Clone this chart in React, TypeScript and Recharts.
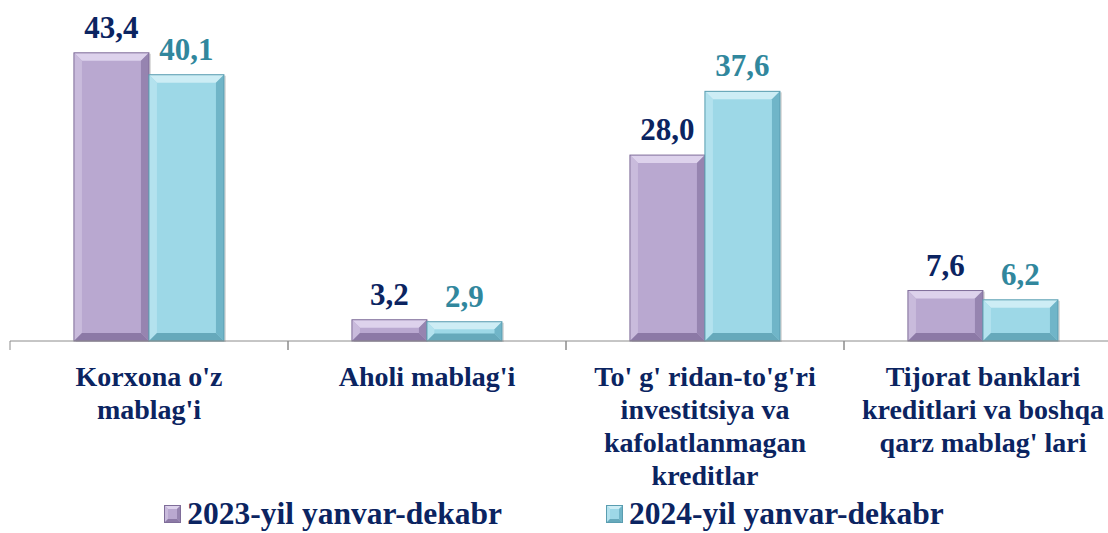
import React from "react";
import { BarChart, Bar, XAxis, YAxis, LabelList, Legend } from "recharts";

const categories = [
  "Korxona o'z mablag'i",
  "Aholi mablag'i",
  "To' g' ridan-to'g'ri investitsiya va kafolatlanmagan kreditlar",
  "Tijorat banklari kreditlari va boshqa qarz mablag' lari",
];
const categoryLines = [
  ["Korxona o'z", "mablag'i"],
  ["Aholi mablag'i"],
  ["To' g' ridan-to'g'ri", "investitsiya va", "kafolatlanmagan", "kreditlar"],
  ["Tijorat banklari", "kreditlari va boshqa", "qarz mablag' lari"],
];
const series2023 = [43.4, 3.2, 28.0, 7.6];
const series2024 = [40.1, 2.9, 37.6, 6.2];
const seriesNames = ["2023-yil yanvar-dekabr", "2024-yil yanvar-dekabr"];

const data = categories.map((c, i) => ({
  name: c,
  lines: categoryLines[i],
  y2023: series2023[i],
  y2024: series2024[i],
}));

const FONT = "Liberation Serif, Times New Roman, serif";
const NAVY = "#0b2461";
const TEAL = "#31879d";

const purplePal = {
  face: "#b9a8d0",
  top: "#ddd2ec",
  left: "#c9bbdc",
  right: "#9684b0",
  bottom: "#8c79a6",
  stroke: "#7f6d99",
};
const cyanPal = {
  face: "#9dd8e7",
  top: "#cdedf5",
  left: "#b3e2ee",
  right: "#70b5c8",
  bottom: "#66a9bb",
  stroke: "#5a9db0",
};

const BevelBar = (props: any) => {
  const { x, y, width, height, pal } = props;
  if (!height || height <= 0) return null;
  const w = width;
  const h = height;
  const b = Math.max(2, Math.min(8, h / 2.6, w / 2));
  const pts = (arr: number[][]) => arr.map((p) => p.join(",")).join(" ");
  return (
    <g>
      <rect x={x + 2} y={y + 1} width={w} height={h} fill="rgba(0,0,0,0.14)" />
      <rect x={x} y={y} width={w} height={h} fill={pal.face} />
      <polygon points={pts([[x, y], [x + w, y], [x + w - b, y + b], [x + b, y + b]])} fill={pal.top} />
      <polygon points={pts([[x, y], [x + b, y + b], [x + b, y + h - b], [x, y + h]])} fill={pal.left} />
      <polygon points={pts([[x + w, y], [x + w, y + h], [x + w - b, y + h - b], [x + w - b, y + b]])} fill={pal.right} />
      <polygon points={pts([[x, y + h], [x + w, y + h], [x + w - b, y + h - b], [x + b, y + h - b]])} fill={pal.bottom} />
      <rect x={x} y={y} width={w} height={h} fill="none" stroke={pal.stroke} strokeWidth={1} />
    </g>
  );
};

const CategoryTick = (props: any) => {
  const { x, y, payload, index } = props;
  const half = payload && payload.offset ? payload.offset : 139;
  const lines: string[] = data[index] ? data[index].lines : [String(payload.value)];
  return (
    <g>
      <line x1={x - half} y1={y} x2={x - half} y2={y + 9} stroke="#8c8c8c" strokeWidth={1} />
      <line x1={x + half} y1={y} x2={x + half} y2={y + 9} stroke="#8c8c8c" strokeWidth={1} />
      <text
        x={x}
        y={y + 45}
        textAnchor="middle"
        fill={NAVY}
        fontFamily={FONT}
        fontWeight={700}
        fontSize={28}
      >
        {lines.map((l, i) => (
          <tspan key={i} x={x} dy={i === 0 ? 0 : 33}>
            {l}
          </tspan>
        ))}
      </text>
    </g>
  );
};

const LegendMarker = ({ pal }: any) => (
  <svg width={17} height={18} style={{ display: "block" }}>
    <rect x={0} y={0} width={17} height={18} fill={pal.face} />
    <polygon points="0,0 17,0 13,4 4,4" fill={pal.top} />
    <polygon points="0,0 4,4 4,14 0,18" fill={pal.left} />
    <polygon points="17,0 17,18 13,14 13,4" fill={pal.right} />
    <polygon points="0,18 17,18 13,14 4,14" fill={pal.bottom} />
    <rect x={0.5} y={0.5} width={16} height={17} fill="none" stroke={pal.stroke} />
  </svg>
);

const LegendContent = () => (
  <div
    style={{
      display: "flex",
      justifyContent: "center",
      gap: 104,
      fontFamily: FONT,
      fontWeight: 700,
      fontSize: 31.5,
      color: NAVY,
      lineHeight: "32px",
    }}
  >
    {seriesNames.map((n, i) => (
      <div key={n} style={{ display: "flex", alignItems: "center", gap: 6 }}>
        <LegendMarker pal={i === 0 ? purplePal : cyanPal} />
        <span>{n}</span>
      </div>
    ))}
  </div>
);

export default function App() {
  return (
    <div
      style={{
        position: "absolute",
        left: 0,
        top: 0,
        width: 1108,
        height: 533,
        overflow: "hidden",
        background: "#ffffff",
        fontFamily: FONT,
      }}
    >
      <BarChart
        width={1122}
        height={533}
        data={data}
        margin={{ top: 9, right: 0, bottom: 0, left: 10 }}
        barCategoryGap="23%"
        barGap={0}
        style={{ fontFamily: FONT }}
      >
        <XAxis
          dataKey="name"
          axisLine={{ stroke: "#8c8c8c", strokeWidth: 1 }}
          tickLine={false}
          tickSize={0}
          tickMargin={0}
          height={192}
          interval={0}
          tick={<CategoryTick />}
        />
        <YAxis hide domain={[0, 50]} />
        <Legend
          layout="horizontal"
          verticalAlign="middle"
          align="center"
          wrapperStyle={{ top: 498, left: 0, width: 1108 }}
          content={<LegendContent />}
        />
        <Bar
          dataKey="y2023"
          name={seriesNames[0]}
          isAnimationActive={false}
          shape={(p: any) => <BevelBar {...p} pal={purplePal} />}
        >
          <LabelList
            dataKey="y2023"
            position="top"
            offset={15}
            formatter={(v: any) => Number(v).toFixed(1).replace(".", ",")}
            fontFamily={FONT}
            fontWeight={700}
            fontSize={31}
            fill={NAVY}
          />
        </Bar>
        <Bar
          dataKey="y2024"
          name={seriesNames[1]}
          isAnimationActive={false}
          shape={(p: any) => <BevelBar {...p} pal={cyanPal} />}
        >
          <LabelList
            dataKey="y2024"
            position="top"
            offset={15}
            formatter={(v: any) => Number(v).toFixed(1).replace(".", ",")}
            fontFamily={FONT}
            fontWeight={700}
            fontSize={31}
            fill={TEAL}
          />
        </Bar>
      </BarChart>
    </div>
  );
}
